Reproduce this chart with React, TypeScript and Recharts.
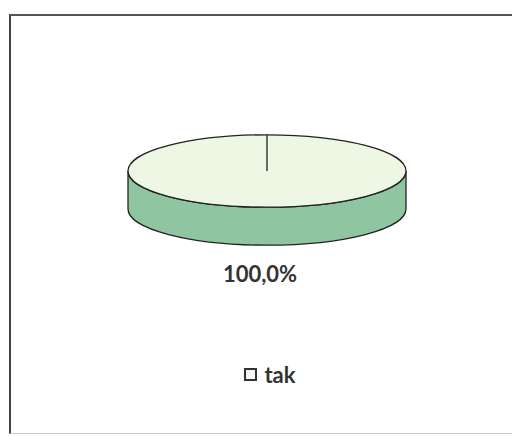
import React from 'react';
import { PieChart, Pie, Cell, Legend } from 'recharts';

const categories = ['tak'];
const values = [100];
const colors = ['#eef7e4'];

const data = categories.map((name, i) => ({ name, value: values[i], color: colors[i] }));

const SIDE = '#8fc6a1';
const DEPTH = 38;
const SQUASH = 0.26;

// flat 3D-ish disc: side band first, then the squashed top face and the slice edge
const DiscSlice = (props: any) => {
  const { cx, cy, outerRadius, startAngle, fill } = props;
  const rx = outerRadius;
  const ry = outerRadius * SQUASH;
  const side = `M${cx - rx},${cy} L${cx - rx},${cy + DEPTH} A${rx},${ry} 0 0 0 ${cx + rx},${cy + DEPTH} L${cx + rx},${cy} A${rx},${ry} 0 0 1 ${cx - rx},${cy} Z`;
  const a = (startAngle * Math.PI) / 180;
  return (
    <g>
      <path d={side} fill={SIDE} stroke="#222" strokeWidth={1.3} />
      <ellipse cx={cx} cy={cy} rx={rx} ry={ry} fill={fill} stroke="#222" strokeWidth={1.3} />
      <line x1={cx} y1={cy} x2={cx + rx * Math.cos(a)} y2={cy - ry * Math.sin(a)} stroke="#222" strokeWidth={1.3} />
    </g>
  );
};

const renderLabel = (p: any) => (
  <text x={p.cx - 7} y={p.cy + 111} textAnchor="middle" fill="#333" fontSize={22} fontWeight={700} fontFamily="Lato, sans-serif">
    {(p.percent * 100).toFixed(1).replace('.', ',')}%
  </text>
);

const LegendBox = (props: any) => (
  <div style={{ display: 'flex', justifyContent: 'center', alignItems: 'center', fontFamily: 'Lato, sans-serif', fontWeight: 700, fontSize: 22, color: '#333' }}>
    {(props.payload || []).map((e: any) => (
      <span key={e.value} style={{ display: 'flex', alignItems: 'center' }}>
        <span style={{ width: 9, height: 9, border: '2px solid #333', background: '#f4f6f2', marginRight: 7 }} />
        {e.value}
      </span>
    ))}
  </div>
);

export default function App() {
  return (
    <div style={{ position: 'absolute', left: 0, top: 0, width: 512, height: 437, background: '#fff' }}>
      <div style={{ position: 'absolute', left: 9, top: 14, width: 510, height: 417, borderLeft: '2px solid #444', borderTop: '2px solid #555', borderBottom: '1px solid #ccc' }} />
      <PieChart width={512} height={437} margin={{ top: 0, right: 0, bottom: 0, left: 0 }} style={{ position: 'absolute', left: 0, top: 0 }}>
        <Pie
          data={data}
          dataKey="value"
          nameKey="name"
          cx={267}
          cy={171}
          outerRadius={139}
          startAngle={90}
          endAngle={-270}
          shape={DiscSlice}
          label={renderLabel}
          labelLine={false}
          isAnimationActive={false}
        >
          {data.map((d, i) => (
            <Cell key={i} fill={d.color} />
          ))}
        </Pie>
        <Legend content={LegendBox} verticalAlign="bottom" wrapperStyle={{ top: 361, bottom: 'auto', left: 0, width: 540 }} />
      </PieChart>
    </div>
  );
}
